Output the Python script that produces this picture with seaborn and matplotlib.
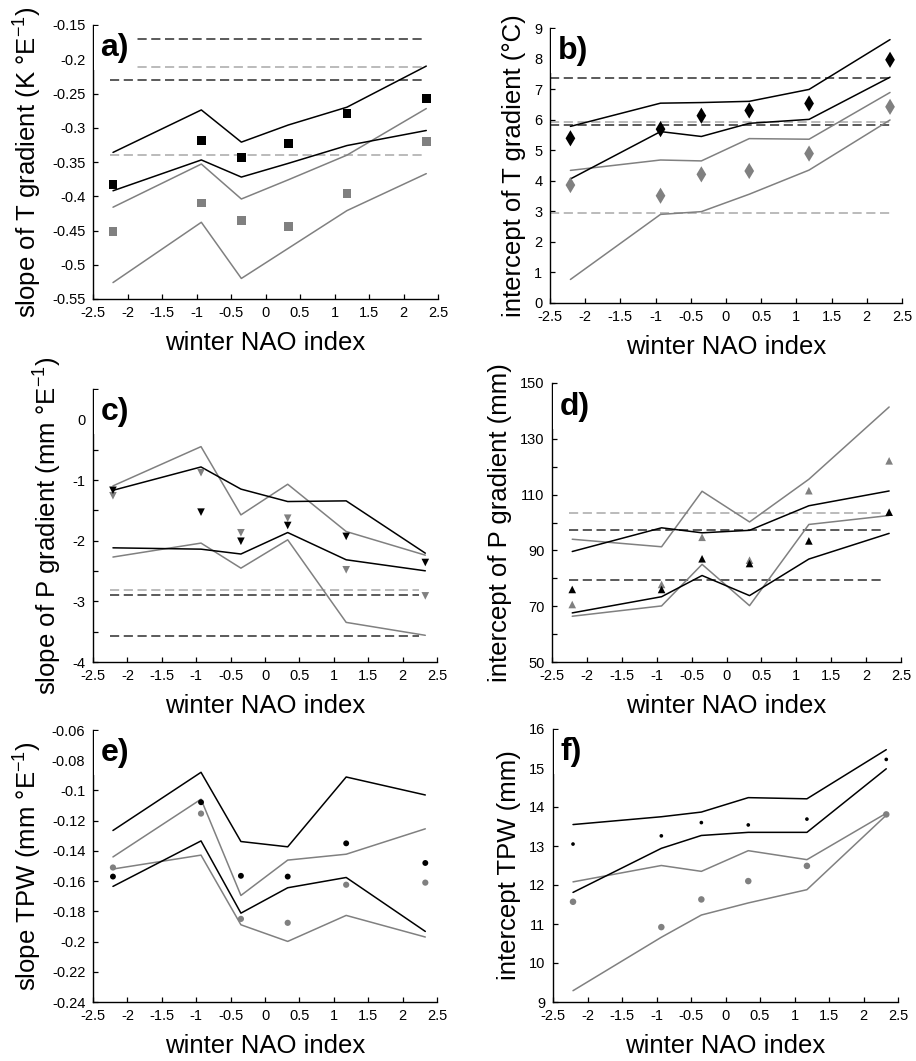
import numpy as np
import pandas as pd
import matplotlib
matplotlib.use("Agg")
import matplotlib.pyplot as plt
import seaborn as sns
from matplotlib.ticker import FuncFormatter, MultipleLocator

# ---------------- data ----------------
nao = [-2.21, -0.93, -0.35, 0.33, 1.18, 2.33]

# a) slope of T gradient
a_black_pts = [-0.383, -0.319, -0.343, -0.323, -0.279, -0.257]
a_grey_pts = [-0.452, -0.410, -0.435, -0.444, -0.396, -0.320]
a_black_hi = [-0.336, -0.274, -0.321, -0.296, -0.270, -0.210]
a_black_lo = [-0.392, -0.347, -0.372, -0.352, -0.326, -0.304]
a_grey_hi = [-0.416, -0.353, -0.404, -0.376, -0.340, -0.272]
a_grey_lo = [-0.526, -0.438, -0.520, -0.476, -0.421, -0.367]
a_dash_black = [-0.171, -0.230]
a_dash_grey = [-0.211, -0.340]

# b) intercept of T gradient
b_black_pts = [5.39, 5.69, 6.13, 6.30, 6.53, 7.96]
b_grey_pts = [3.86, 3.51, 4.21, 4.32, 4.89, 6.42]
b_black_hi = [5.78, 6.54, 6.56, 6.60, 6.99, 8.62]
b_black_lo = [4.06, 5.61, 5.45, 5.88, 6.01, 7.39]
b_grey_hi = [4.34, 4.68, 4.65, 5.38, 5.36, 6.89]
b_grey_lo = [0.77, 2.90, 2.99, 3.56, 4.35, 5.99]
b_dash_black = [7.38, 5.82]
b_dash_grey = [5.93, 2.93]

# c) slope of P gradient
c_black_pts = [-1.17, -1.53, -2.01, -1.75, -1.93, -2.36]
c_grey_pts = [-1.26, -0.88, -1.87, -1.63, -2.48, -2.91]
c_black_hi = [-1.17, -0.785, -1.15, -1.355, -1.344, -2.206]
c_black_lo = [-2.118, -2.14, -2.22, -1.866, -2.315, -2.497]
c_grey_hi = [-1.097, -0.45, -1.575, -1.07, -1.849, -2.239]
c_grey_lo = [-2.27, -2.04, -2.453, -1.986, -3.347, -3.56]
c_dash_black = [-2.90, -3.567]
c_dash_grey = [-2.81]

# d) intercept of P gradient
d_black_pts = [76.0, 76.0, 87.0, 85.3, 93.4, 103.7]
d_grey_pts = [70.6, 77.8, 94.7, 86.5, 111.4, 122.1]
d_black_hi = [89.6, 98.1, 96.3, 97.2, 106.0, 111.3]
d_black_lo = [67.6, 73.4, 81.0, 73.8, 86.9, 96.1]
d_grey_hi = [94.0, 91.3, 111.2, 100.2, 115.5, 141.4]
d_grey_lo = [66.4, 70.1, 85.0, 70.2, 99.3, 102.5]
d_dash_black = [97.3, 79.3]
d_dash_grey = [103.5]

# e) slope TPW
e_black_pts = [-0.157, -0.1078, -0.1565, -0.157, -0.135, -0.148]
e_grey_pts = [-0.151, -0.1153, -0.185, -0.1876, -0.1624, -0.161]
e_black_hi = [-0.1265, -0.088, -0.1338, -0.1373, -0.0911, -0.103]
e_black_lo = [-0.1635, -0.1334, -0.1812, -0.1644, -0.1576, -0.1933]
e_grey_hi = [-0.144, -0.1058, -0.1695, -0.1461, -0.1422, -0.1254]
e_grey_lo = [-0.152, -0.1428, -0.1889, -0.1999, -0.1827, -0.197]

# f) intercept TPW
f_black_pts = [13.05, 13.26, 13.60, 13.54, 13.69, 15.22]
f_grey_pts = [11.57, 10.92, 11.63, 12.10, 12.49, 13.81]
f_black_hi = [13.55, 13.75, 13.87, 14.24, 14.21, 15.47]
f_black_lo = [11.81, 12.94, 13.27, 13.35, 13.35, 14.98]
f_grey_hi = [12.08, 12.50, 12.35, 12.88, 12.65, 13.84]
f_grey_lo = [9.29, 10.66, 11.23, 11.54, 11.88, 13.79]

xticks = [-2.5, -2, -1.5, -1, -0.5, 0, 0.5, 1, 1.5, 2, 2.5]

# ---------------- style ----------------
sns.set_theme(style="ticks")
plt.rcParams['font.family'] = ['Liberation Sans', 'DejaVu Sans']
plt.rcParams['axes.unicode_minus'] = False
plt.rcParams['mathtext.default'] = 'regular'
for k in ['text.color', 'axes.labelcolor', 'xtick.color', 'ytick.color',
          'axes.edgecolor']:
    plt.rcParams[k] = 'black'

BLACK = "#000000"
GREY = "#808080"
DBLACK = "#2e2e2e"
DGREY = "#a8a8a8"

W, H = 916, 1061
fig = plt.figure(figsize=(W / 100, H / 100), dpi=100)


def px_axes(x0, y0, x1, y1):
    return fig.add_axes([x0 / W, (H - y1) / H, (x1 - x0) / W, (y1 - y0) / H])


def fmt(v, p):
    v = round(v, 6)
    if v == 0:
        return "0"
    return f"{v:g}"


def panel(ax, letter, ylabel, ylim, ystep, pts_b, pts_g, bhi, blo, ghi, glo,
          marker, s_b, s_g, dash_b=(), dash_g=(), dash_x=(-2.25, 2.25),
          label_every=None):
    for v in dash_g:
        ax.hlines(v, dash_x[0], dash_x[1], colors=DGREY, lw=1.1,
                  linestyles=(0, (6, 3)), zorder=1)
    for v in dash_b:
        ax.hlines(v, dash_x[0], dash_x[1], colors=DBLACK, lw=1.1,
                  linestyles=(0, (6, 3)), zorder=1)
    for ys, c in [(ghi, GREY), (glo, GREY), (bhi, BLACK), (blo, BLACK)]:
        sns.lineplot(x=nao, y=ys, color=c, lw=1.1, ax=ax,
                     estimator=None, sort=False, zorder=2)
    sns.scatterplot(x=nao, y=pts_g, marker=marker, s=s_g, color=GREY,
                    edgecolor='none', ax=ax, zorder=3)
    sns.scatterplot(x=nao, y=pts_b, marker=marker, s=s_b, color=BLACK,
                    edgecolor='none', ax=ax, zorder=4)
    ax.set_xlim(-2.5, 2.5)
    ax.set_xticks(xticks)
    ax.xaxis.set_major_formatter(FuncFormatter(fmt))
    ax.yaxis.set_major_locator(MultipleLocator(ystep))
    if label_every is None:
        ax.yaxis.set_major_formatter(FuncFormatter(fmt))
    else:
        base, step = label_every

        def f2(v, p):
            k = (v - base) / step
            return fmt(v, p) if abs(k - round(k)) < 1e-6 else ""
        ax.yaxis.set_major_formatter(FuncFormatter(f2))
    ax.set_ylim(*ylim)
    sns.despine(ax=ax)
    for sp in ['left', 'bottom']:
        ax.spines[sp].set_linewidth(1.0)
        ax.spines[sp].set_color('black')
    ax.tick_params(direction='in', length=3.5, width=0.9, labelsize=10.5,
                   colors='black')
    ax.tick_params(axis='x', pad=5)
    ax.tick_params(axis='y', pad=5.5)
    ax.set_xlabel("winter NAO index", fontsize=18.5, labelpad=8,
                  color='black')
    ax.set_ylabel(ylabel, fontsize=18.5, labelpad=6, color='black')
    ax.text(0.022, 1 - 31 / 274, letter, transform=ax.transAxes,
            fontsize=23, fontweight='bold', va='baseline', ha='left',
            zorder=10, color='black',
            bbox=dict(boxstyle='square,pad=0.22', fc='white', ec='none'))


ax_a = px_axes(93, 25, 438, 299)
panel(ax_a, "a)", "slope of T gradient (K °E$^{-1}$)", (-0.55, -0.15), 0.05,
      a_black_pts, a_grey_pts, a_black_hi, a_black_lo, a_grey_hi, a_grey_lo,
      's', 40, 40, a_dash_black, a_dash_grey, (-2.25, 2.27))

ax_b = px_axes(550, 28, 902, 303)
panel(ax_b, "b)", "intercept of T gradient (°C)", (0, 9), 1,
      b_black_pts, b_grey_pts, b_black_hi, b_black_lo, b_grey_hi, b_grey_lo,
      'd', 68, 68, b_dash_black, b_dash_grey, (-2.5, 2.33))

ax_c = px_axes(93, 389, 437, 662)
panel(ax_c, "c)", "slope of P gradient (mm °E$^{-1}$)", (-4, 0.5), 0.5,
      c_black_pts, c_grey_pts, c_black_hi, c_black_lo, c_grey_hi, c_grey_lo,
      'v', 30, 30, c_dash_black, c_dash_grey, (-2.25, 2.24),
      label_every=(0, 1))

ax_d = px_axes(552, 383, 901, 662)
panel(ax_d, "d)", "intercept of P gradient (mm)", (50, 150), 10,
      d_black_pts, d_grey_pts, d_black_hi, d_black_lo, d_grey_hi, d_grey_lo,
      '^', 30, 30, d_dash_black, d_dash_grey, (-2.25, 2.22),
      label_every=(50, 20))

ax_e = px_axes(93, 730, 437, 1002)
panel(ax_e, "e)", "slope TPW (mm °E$^{-1}$)", (-0.24, -0.06), 0.02,
      e_black_pts, e_grey_pts, e_black_hi, e_black_lo, e_grey_hi, e_grey_lo,
      'o', 18, 20)

ax_f = px_axes(553, 729, 898, 1002)
panel(ax_f, "f)", "intercept TPW (mm)", (9, 16), 1,
      f_black_pts, f_grey_pts, f_black_hi, f_black_lo, f_grey_hi, f_grey_lo,
      'o', 7, 22)

fig.savefig("out.png", dpi=100)
